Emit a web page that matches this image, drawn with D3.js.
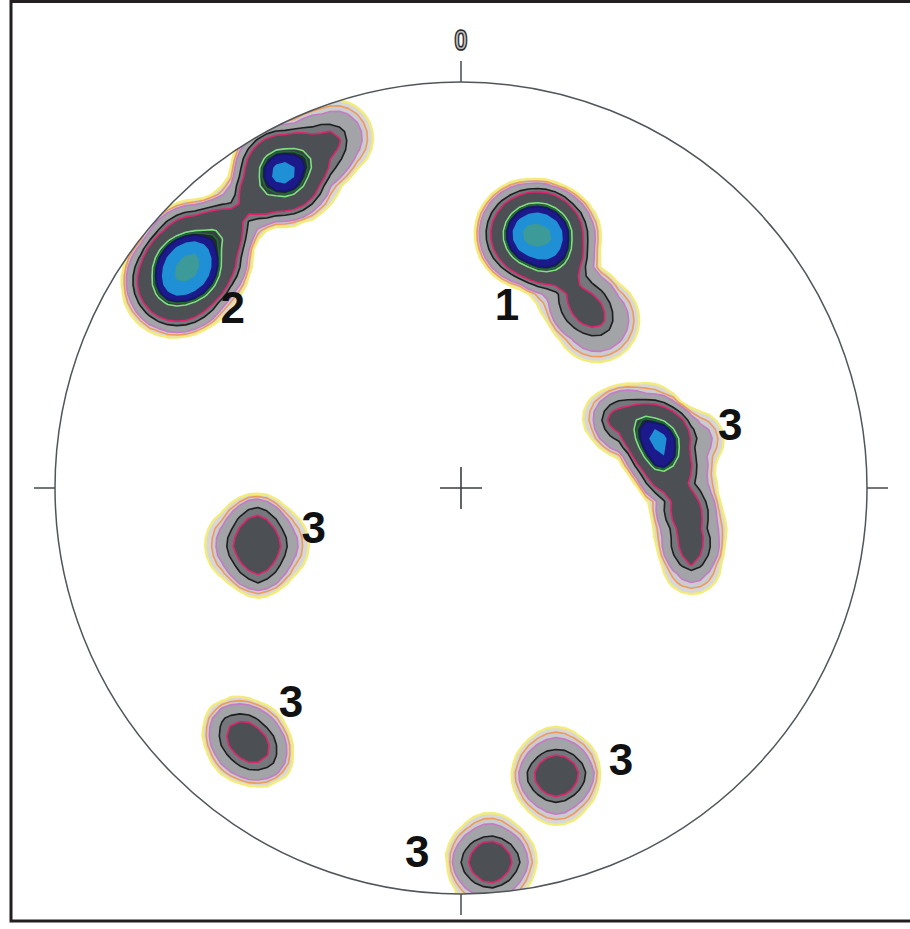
<!DOCTYPE html>
<html>
<head>
<meta charset="utf-8">
<script src="https://cdn.jsdelivr.net/npm/d3@7"></script>
<style>
  html, body { margin: 0; padding: 0; background: #ffffff; }
  svg { display: block; }
</style>
</head>
<body>
<svg id="chart" width="910" height="929"></svg>
<script>
// ---------------- DATA ----------------
// Density contour levels (lowest to highest)
const levels = [1, 1.5, 2, 3.5, 4.5, 8, 8.6, 9.2, 11, 14];
const levelFills   = ["#d7d7d9", "#cbcbd0", "#a3a4a8", "#74777b", "#4c5054", "#36403f", "#1f2b2a", "#1c1a8a", "#1f8fd6", "#3c9a98"];
const levelStrokes = ["#f3ec78", "#ee9a5a", "#c47ac4", "#1e1e1e", "#e0246e", "#7fe07f", "#1f6a3a", "#16166e", "none", "none"];

// Pole concentrations: [east, north, weight, counting radius] in projection units (% of primitive radius)
const set1 = [            // maximum 1 (NE)
  [18.2, 62.3, 7.0, 15.5],
  [15.8, 62.8, 6.2, 14],
  [22.7, 61.6, 6.2, 14],
  [26.8, 48.8, 3.8, 12],
  [33.5, 41.4, 5.0, 13]
];
const set2 = [            // maximum 2 (NW)
  [-67.2, 54.2, 7.0, 17],
  [-71.2, 49.3, 7.5, 14],
  [-64.3, 58.6, 7.5, 14],
  [-54.9, 67.5, 5.0, 10],
  [-42.1, 78.3, 5.5, 16],
  [-44.6, 77.3, 8.5, 13],
  [-31.0, 86.2, 4.5, 12]
];
const set3East = [
  [37.2, 17.2, 3.5, 10],
  [45.3, 15.5, 5.0, 13],
  [57.6, 11.8, 3.5, 10],
  [54.4, -0.5, 5.0, 11],
  [56.4, -10.3, 5.5, 11],
  [56.9, -19.0, 3.5, 10],
  [48.3, 13.5, 7.0, 9.5],
  [49.0, 6.2, 7.0, 9.5]
];
const set3West = [
  [-53.2, -14.0, 4.1, 13],
  [-47.3, -14.0, 4.1, 13],
  [-50.4, -5.2, 1.6, 8],
  [-49.8, -22.9, 1.6, 8]
];
const set3SouthWest = [
  [-52.5, -62.6, 6.8, 12],
  [-58.9, -56.4, 1.5, 10],
  [-45.8, -68.5, 1.5, 10]
];
const set3South = [
  [23.4, -67.2, 4.2, 11],
  [23.6, -74.6, 4.2, 11],
  [16.0, -70.9, 1.5, 9],
  [30.8, -70.2, 1.5, 9]
];
const set3Bottom = [
  [7.1, -88.4, 4.2, 11],
  [7.4, -95.8, 4.2, 11],
  [-0.5, -92.1, 1.5, 9],
  [15.3, -91.6, 1.5, 9]
];

// Set labels and their anchor positions (projection units)
const labelTexts = ["1", "2", "3", "3", "3", "3", "3"];
const labelEast  = [11.3, -56.2, 66.3, -36.3, -41.9, 39.4, -10.8];
const labelNorth = [41.4, 40.6, 11.8, -13.5, -56.4, -70.7, -93.3];

// Azimuth ticks
const tickAzimuths = [0, 90, 180, 270];
const tickLabels = ["0"];

// ---------------- CHART ----------------
const cx = 461, cy = 488, R = 406;
const svg = d3.select("#chart");

const x = d3.scaleLinear().domain([-100, 100]).range([cx - R, cx + R]);
const y = d3.scaleLinear().domain([-100, 100]).range([cy + R, cy - R]);

// density grid (counting grid)
const n = 90;
const gx = d3.scaleLinear().domain([0, n]).range([-100, 100]);
const gy = d3.scaleLinear().domain([0, n]).range([100, -100]);
const kernels = [].concat(set1, set2, set3East, set3West, set3SouthWest, set3South, set3Bottom);
const values = new Float64Array(n * n);
for (let j = 0; j < n; j++) {
  const Y = gy(j + 0.5);
  for (let i = 0; i < n; i++) {
    const X = gx(i + 0.5);
    let v = 0;
    for (const k of kernels) {
      const d = Math.hypot(X - k[0], Y - k[1]);
      if (d < k[3]) v += k[2] * (1 - d / k[3]);
    }
    values[j * n + i] = v;
  }
}
const contours = d3.contours().size([n, n]).thresholds(levels)(values);
const proj = d3.geoTransform({
  point(px, py) { this.stream.point(x(gx(px)), y(gy(py))); }
});
const path = d3.geoPath(proj);

const defs = svg.append("defs");
defs.append("clipPath").attr("id", "net")
  .append("circle").attr("cx", x(0)).attr("cy", y(0)).attr("r", x(100) - x(0));

const g = svg.append("g").attr("clip-path", "url(#net)");
g.selectAll("path.band")
  .data(contours)
  .join("path")
  .attr("class", "band")
  .attr("d", path)
  .attr("fill", (d, i) => levelFills[i])
  .attr("stroke", (d, i) => levelStrokes[i])
  .attr("stroke-width", (d, i) => i === 0 ? 2.4 : 1.6)
  .attr("stroke-linejoin", "round");

// primitive circle
svg.append("circle")
  .attr("cx", x(0)).attr("cy", y(0)).attr("r", x(100) - x(0))
  .attr("fill", "none").attr("stroke", "#505559").attr("stroke-width", 1.5);

// azimuth ticks
const tickLen = 21;
svg.selectAll("line.tick")
  .data(tickAzimuths)
  .join("line")
  .attr("class", "tick")
  .attr("x1", a => x(100 * Math.sin(a * Math.PI / 180)))
  .attr("y1", a => y(100 * Math.cos(a * Math.PI / 180)))
  .attr("x2", a => x(100 * Math.sin(a * Math.PI / 180)) + tickLen * Math.sin(a * Math.PI / 180))
  .attr("y2", a => y(100 * Math.cos(a * Math.PI / 180)) - tickLen * Math.cos(a * Math.PI / 180))
  .attr("stroke", "#505559").attr("stroke-width", 1.6);

// centre cross
const crossHalf = 21;
svg.append("line")
  .attr("x1", x(0) - crossHalf).attr("x2", x(0) + crossHalf)
  .attr("y1", y(0)).attr("y2", y(0))
  .attr("stroke", "#3a3e42").attr("stroke-width", 1.6);
svg.append("line")
  .attr("x1", x(0)).attr("x2", x(0))
  .attr("y1", y(0) - crossHalf).attr("y2", y(0) + crossHalf)
  .attr("stroke", "#3a3e42").attr("stroke-width", 1.6);

// north label
svg.append("text")
  .attr("transform", `translate(${x(0)},${y(100) - 32}) scale(0.8,1)`)
  .attr("text-anchor", "middle")
  .attr("font-family", "Liberation Sans, Arial, sans-serif")
  .attr("font-weight", "bold")
  .attr("font-size", 30)
  .attr("fill", "#bfc2c5")
  .attr("stroke", "#2a2a2a")
  .attr("stroke-width", 1.6)
  .text(tickLabels[0]);

// set labels
svg.selectAll("text.setlabel")
  .data(labelTexts)
  .join("text")
  .attr("class", "setlabel")
  .attr("x", (d, i) => x(labelEast[i]))
  .attr("y", (d, i) => y(labelNorth[i]))
  .attr("text-anchor", "middle")
  .attr("font-family", "Liberation Sans, Arial, sans-serif")
  .attr("font-weight", "bold")
  .attr("font-size", 44)
  .attr("fill", "#111111")
  .text(d => d);

// frame
svg.append("rect")
  .attr("x", 11).attr("y", 1.5)
  .attr("width", 912).attr("height", 919.5)
  .attr("fill", "none").attr("stroke", "#231f20").attr("stroke-width", 3);
</script>
</body>
</html>
